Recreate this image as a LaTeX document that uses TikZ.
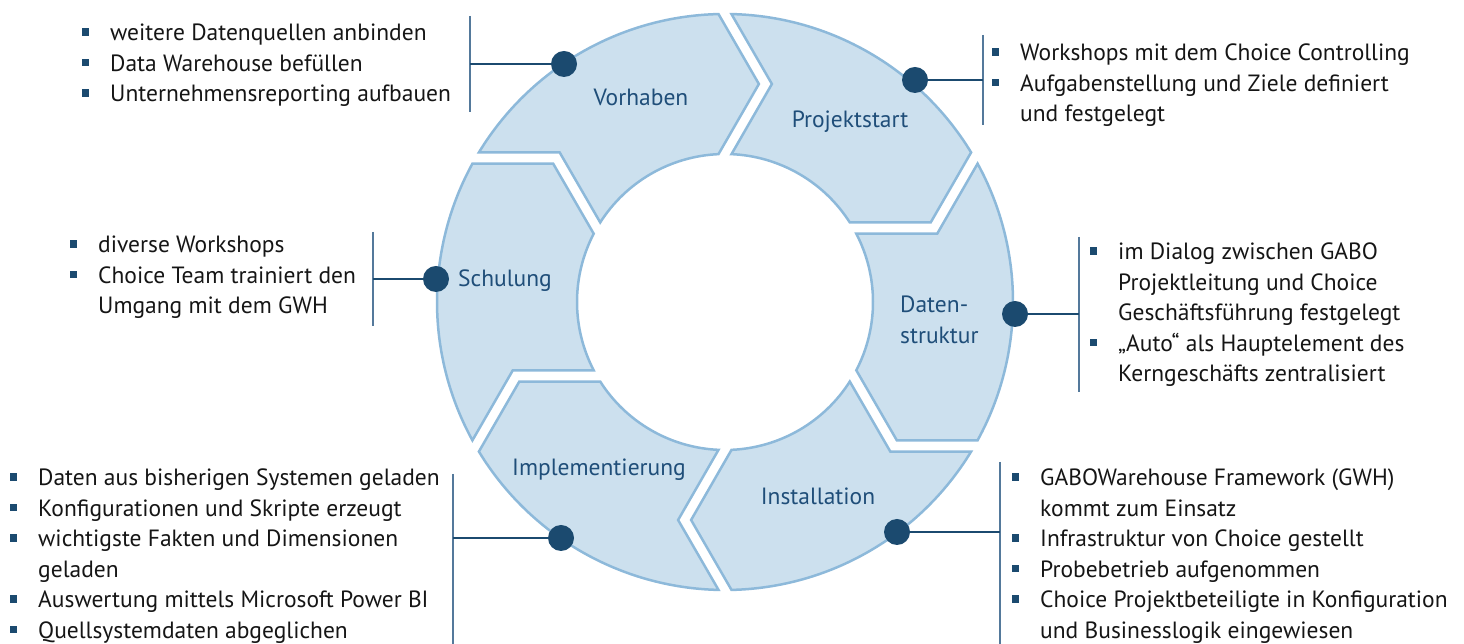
\documentclass[tikz,border=0pt]{standalone}
\usepackage{fontspec}
\setmainfont{PT Sans}
\definecolor{segfill}{HTML}{CCE0EE}
\definecolor{segline}{HTML}{8DB9DA}
\definecolor{dark}{HTML}{1B4A6F}
\definecolor{lbl}{HTML}{1F4E79}
\definecolor{barc}{HTML}{54799B}
\definecolor{txt}{HTML}{151515}
\newcommand\bul{\textcolor{dark}{\rule[5.3pt]{7.5pt}{7.5pt}}}
\newcommand\callfont{\fontsize{23.5}{30.5}\selectfont}
\begin{document}
\begin{tikzpicture}[x=1pt,y=1pt,
  seg/.style={fill=segfill,draw=segline,line width=2.5pt,line join=miter},
  dotn/.style={circle,fill=dark,minimum size=26pt,inner sep=0pt},
  conn/.style={draw=dark,line width=2.5pt},
  barline/.style={draw=barc,line width=1.6pt},
  seglabel/.style={font=\callfont,text=lbl,inner sep=0pt,anchor=base},
  calltext/.style={font=\callfont,text=txt,inner sep=0pt,anchor=base west}]
\useasboundingbox (0,0) rectangle (1464,644);
\begin{scope}[shift={(725,342)}]
\foreach \m in {120,60,0,-60,-120,180}{
  \draw[seg,rotate=\m-90] (118.71:288pt) arc[start angle=118.71,end angle=61.29,radius=288pt]
    -- (51.16:220.62pt) -- (62.52:148pt)
    arc[start angle=62.52,end angle=117.48,radius=148pt]
    -- (107.86:223pt) -- cycle;
}
\end{scope}
% segment labels
\node[seglabel] (l1) at (641,538) {Vorhaben};
\node[seglabel] (l2) at (850,516) {Projektstart};
\node[seglabel,anchor=base west] (l3) at (900,331) {\begin{tabular}[t]{@{}l@{}}Daten-\\struktur\end{tabular}};
\node[seglabel] (l4) at (818,139) {Installation};
\node[seglabel] (l5) at (599,168) {Implementierung};
\node[seglabel] (l6) at (505,357) {Schulung};
% bars
\coordinate (b1t) at (470,628); \coordinate (b1b) at (470,532);
\coordinate (b2t) at (983,609); \coordinate (b2b) at (983,519);
\coordinate (b3t) at (1079,407); \coordinate (b3b) at (1079,252);
\coordinate (b4t) at (1000,182); \coordinate (b4b) at (1000,0);
\coordinate (b5t) at (453,170); \coordinate (b5b) at (453,0);
\coordinate (b6t) at (373,412); \coordinate (b6b) at (373,318);
\foreach \i in {1,...,6}{\draw[barline] (b\i t) -- (b\i b);}
% dots and connectors
\coordinate (p1) at (564,580);
\coordinate (p2) at (915,564);
\coordinate (p3) at (1015,330);
\coordinate (p4) at (897,112);
\coordinate (p5) at (561,106);
\coordinate (p6) at (436,365);
\foreach \i in {1,...,6}{\draw[conn] (p\i) -- (p\i -| b\i t);}
\foreach \i in {1,...,6}{\node[dotn] (d\i) at (p\i) {};}
% callout texts
\node[calltext] (t1) at (81.5,603) {\begin{tabular}[t]{@{}l@{\hspace{21pt}}l@{}}
\bul & weitere Datenquellen anbinden\\
\bul & Data Warehouse befüllen\\
\bul & Unternehmensreporting aufbauen\end{tabular}};
\node[calltext] (t2) at (991.5,583) {\begin{tabular}[t]{@{}l@{\hspace{21pt}}l@{}}
\bul & Workshops mit dem Choice Controlling\\
\bul & Aufgabenstellung und Ziele definiert\\
 & und festgelegt\end{tabular}};
\node[calltext] (t3) at (1089.5,384) {\begin{tabular}[t]{@{}l@{\hspace{21pt}}l@{}}
\bul & im Dialog zwischen GABO\\
 & Projektleitung und Choice\\
 & Geschäftsführung festgelegt\\
\bul & „Auto“ als Hauptelement des\\
 & Kerngeschäfts zentralisiert\end{tabular}};
\node[calltext] (t4) at (1011.5,158) {\begin{tabular}[t]{@{}l@{\hspace{21pt}}l@{}}
\bul & GABOWarehouse Framework (GWH)\\
 & kommt zum Einsatz\\
\bul & Infrastruktur von Choice gestellt\\
\bul & Probebetrieb aufgenommen\\
\bul & Choice Projektbeteiligte in Konfiguration\\
 & und Businesslogik eingewiesen\end{tabular}};
\node[calltext] (t5) at (9.5,158) {\begin{tabular}[t]{@{}l@{\hspace{21pt}}l@{}}
\bul & Daten aus bisherigen Systemen geladen\\
\bul & Konfigurationen und Skripte erzeugt\\
\bul & wichtigste Fakten und Dimensionen\\
 & geladen\\
\bul & Auswertung mittels Microsoft Power BI\\
\bul & Quellsystemdaten abgeglichen\end{tabular}};
\node[calltext] (t6) at (69.5,391) {\begin{tabular}[t]{@{}l@{\hspace{21pt}}l@{}}
\bul & diverse Workshops\\
\bul & Choice Team trainiert den\\
 & Umgang mit dem GWH\end{tabular}};
\end{tikzpicture}
\end{document}
